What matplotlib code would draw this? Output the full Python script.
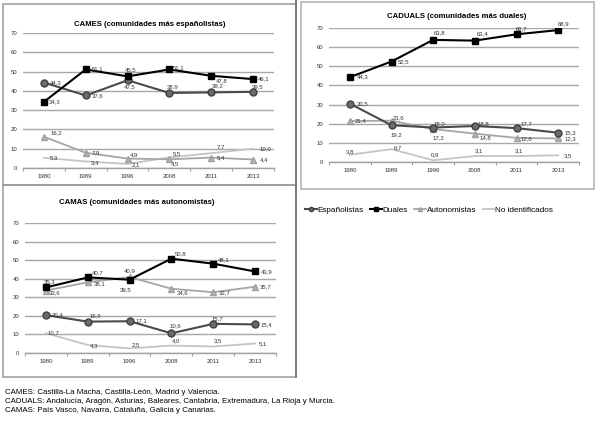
import matplotlib.pyplot as plt
from matplotlib.lines import Line2D
from matplotlib.patches import Rectangle

plt.rcParams['font.family'] = ['Liberation Sans', 'DejaVu Sans']

years = ['1980', '1989', '1996', '2008', '2011', '2013']
series_names = ['Españolistas', 'Duales', 'Autonomistas', 'No identificados']

# CAMES
cames_esp = [44.3, 37.6, 45.5, 38.9, 39.2, 39.5]
cames_dua = [34.3, 51.1, 47.5, 51.1, 47.8, 46.1]
cames_aut = [16.2, 7.9, 4.9, 4.5, 5.4, 4.4]
cames_nid = [5.3, 3.4, 2.1, 5.5, 7.7, 10.0]

# CADUALS
caduals_esp = [30.5, 19.2, 18.0, 18.8, 17.7, 15.3]
caduals_dua = [44.3, 52.5, 63.8, 63.4, 66.7, 68.9]
caduals_aut = [21.4, 21.6, 17.2, 14.8, 12.6, 12.3]
caduals_nid = [3.8, 6.7, 0.9, 3.1, 3.1, 3.5]

# CAMAS
camas_esp = [20.4, 16.9, 17.1, 10.6, 15.7, 15.4]
camas_dua = [35.3, 40.7, 39.5, 50.8, 48.1, 43.9]
camas_aut = [33.6, 38.1, 40.9, 34.6, 32.7, 35.7]
camas_nid = [10.7, 4.3, 2.5, 4.0, 3.5, 5.1]

footnotes = [
    'CAMES: Castilla-La Macha, Castilla-León, Madrid y Valencia.',
    'CADUALS: Andalucía, Aragón, Asturias, Baleares, Cantabria, Extremadura, La Rioja y Murcia.',
    'CAMAS: País Vasco, Navarra, Cataluña, Galicia y Canarias.',
]

# label offsets in pixels (dx, dy up)
cames_off = {
    'esp': [(12, 0), (12, 0), (3, 10), (3, 6), (6, 7), (5, 5)],
    'dua': [(11, 0), (12, 1), (2, -10), (9, 2), (10, -5), (11, 0)],
    'aut': [(12, 4), (10, 0), (6, 4), (6, -4), (10, 0), (11, 0)],
    'nid': [(10, 0), (9, -1), (8, -1), (7, 4), (10, 6), (12, 0)],
}
caduals_off = {
    'esp': [(13, 0), (5, -10), (6, 4), (9, 2), (10, 4), (12, 0)],
    'dua': [(13, 0), (12, 0), (6, 7), (8, 7), (5, 6), (5, 6)],
    'aut': [(11, 0), (7, 3), (5, -9), (11, -4), (10, -1), (12, 0)],
    'nid': [(0, 3), (6, 1), (2, 5), (4, 5), (2, 5), (10, 0)],
}
camas_off = {
    'esp': [(12, 0), (8, 6), (12, 0), (4, 8), (4, 5), (11, 0)],
    'dua': [(4, 6), (10, 5), (-4, -10), (9, 5), (10, 4), (12, 0)],
    'aut': [(9, -2), (12, -2), (0, 6), (11, -4), (11, -1), (11, 0)],
    'nid': [(8, 0), (6, -1), (6, 4), (5, 5), (5, 6), (8, 0)],
}

styles = {
    'nid': dict(color='#c4c4c4', lw=1.3, marker=None, zorder=2),
    'aut': dict(color='#a6a6a6', lw=1.3, marker='^', ms=5, mfc='#b4b4b4', mec='#a0a0a0', zorder=3),
    'esp': dict(color='#4a4a4a', lw=1.5, marker='o', ms=5, mfc='#6a6a6a', mec='#404040', zorder=4),
    'dua': dict(color='#000000', lw=1.5, marker='s', ms=5, mfc='#000000', mec='#000000', zorder=5),
}

W, H = 600, 421
fig = plt.figure(figsize=(6, 4.21), dpi=100)


def fx(x):
    return x / W


def fy(y):
    return 1 - y / H


def add_panel(rect_px, title, title_px, data, offs):
    x0, y0, x1, y1 = rect_px
    ax = fig.add_axes([fx(x0), fy(y1), (x1 - x0) / W, (y1 - y0) / H])
    x = range(len(years))
    for key in ['nid', 'aut', 'esp', 'dua']:
        vals = data[key]
        ax.plot(x, vals, **styles[key])
        for i, v in enumerate(vals):
            dx, dy = offs[key][i]
            ax.annotate(f'{v:.1f}'.replace('.', ','), (i, v), xytext=(dx, dy),
                        textcoords='offset pixels', ha='center', va='center',
                        fontsize=4.3, color='#333333', zorder=6)
    ax.set_xlim(-0.5, 5.5)
    ax.set_ylim(0, 70)
    ax.set_yticks(range(0, 71, 10))
    ax.set_xticks(list(x))
    ax.set_xticklabels(years)
    ax.set_xticks([i - 0.5 for i in range(len(years) + 1)], minor=True)
    ax.grid(axis='y', color='#a8a8a8', lw=1.0, zorder=0)
    ax.set_axisbelow(True)
    for s in ['left', 'right', 'top']:
        ax.spines[s].set_visible(False)
    ax.spines['bottom'].set_color('#a0a0a0')
    ax.spines['bottom'].set_linewidth(1.0)
    ax.tick_params(axis='y', length=0, labelsize=4.3, pad=4, labelcolor='#333333')
    ax.tick_params(axis='x', which='major', length=0, labelsize=4.3, pad=4, labelcolor='#333333')
    ax.tick_params(axis='x', which='minor', length=2.5, color='#a0a0a0', width=0.8)
    fig.text(fx(title_px[0]), fy(title_px[1]), title, ha='center', va='center',
             fontsize=5.6, fontweight='bold')
    return ax


add_panel((23, 33, 274, 168), 'CAMES (comunidades más españolistas)', (150, 24),
          dict(esp=cames_esp, dua=cames_dua, aut=cames_aut, nid=cames_nid), cames_off)
add_panel((329, 28, 579, 162), 'CADUALS (comunidades más duales)', (457, 16),
          dict(esp=caduals_esp, dua=caduals_dua, aut=caduals_aut, nid=caduals_nid), caduals_off)
add_panel((25, 223, 276, 353), 'CAMAS (comunidades más autonomistas)', (137, 202),
          dict(esp=camas_esp, dua=camas_dua, aut=camas_aut, nid=camas_nid), camas_off)

# panel frames
for (x0, y0, x1, y1), col in [((3, 4, 296, 185), '#9a9a9a'),
                              ((301, 2, 594, 189), '#b0b0b0'),
                              ((3, 185, 296, 377), '#9a9a9a')]:
    fig.patches.append(Rectangle((fx(x0), fy(y1)), (x1 - x0) / W, (y1 - y0) / H,
                                 transform=fig.transFigure, fill=False,
                                 edgecolor=col, lw=1.1))
fig.add_artist(Line2D([fx(296), fx(296)], [fy(0), fy(377)], color='#7a7a7a', lw=1.4,
                      transform=fig.transFigure))

handles = []
for key, name in zip(['esp', 'dua', 'aut', 'nid'], series_names):
    st = dict(styles[key])
    st.pop('zorder')
    if 'ms' in st:
        st['ms'] = 3
    handles.append(Line2D([], [], **st))
fig.legend(handles, series_names, loc='center', bbox_to_anchor=(fx(429), fy(210)),
           ncol=4, frameon=False, fontsize=5.9, handlelength=1.4, handletextpad=0.1,
           columnspacing=0.8)

for i, line in enumerate(footnotes):
    fig.text(fx(5), fy(392 + i * 9.5), line, ha='left', va='center', fontsize=5.7)

fig.savefig('out.png', dpi=100)
